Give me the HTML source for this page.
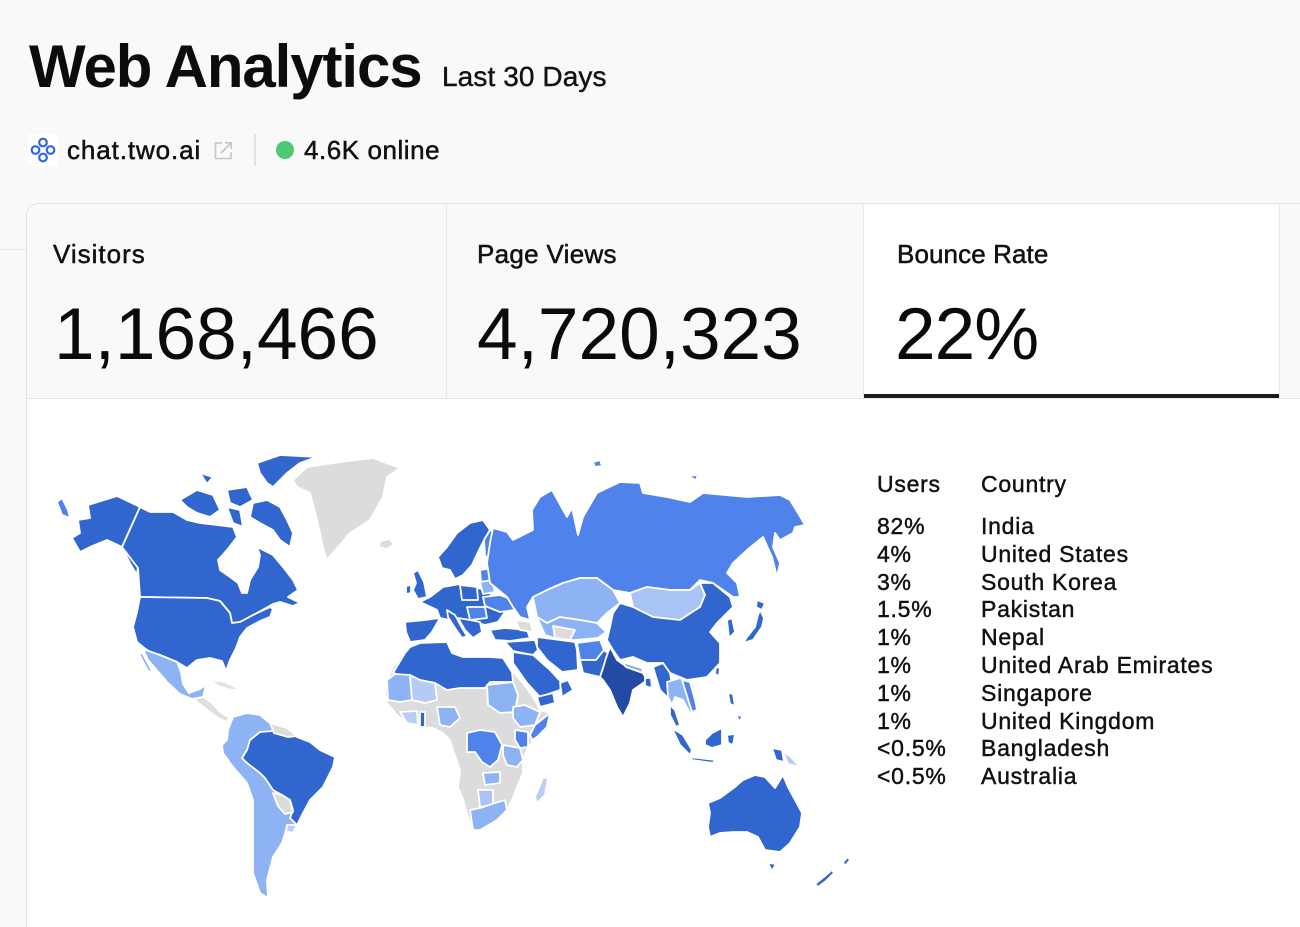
<!DOCTYPE html>
<html>
<head>
<meta charset="utf-8">
<style>
  html,body{margin:0;padding:0;width:1300px;height:927px;overflow:hidden;}
  body{background:#f9f9f9;position:relative;font-family:"Liberation Sans",Arial,sans-serif;color:#111;}
  .abs{position:absolute;white-space:nowrap;}
  .title{left:29px;top:37px;font-size:60px;line-height:60px;font-weight:bold;letter-spacing:-1.1px;color:#0c0c0c;}
  .sub{left:442px;top:63px;font-size:28px;line-height:28px;color:#111;-webkit-text-stroke:0.4px #111;letter-spacing:0.1px;}
  .row2{top:137px;font-size:26px;line-height:26px;color:#111;-webkit-text-stroke:0.5px #111;}
  .card{position:absolute;left:26px;top:203px;width:1320px;height:724px;border:1.5px solid #e3e3e3;border-bottom:none;border-top-left-radius:12px;background:#f9f9f9;box-sizing:border-box;}
  .maparea{position:absolute;left:28px;top:399px;width:1272px;height:528px;background:#fff;}
  .sel{position:absolute;left:864px;top:205px;width:415px;height:193px;background:#fff;}
  .vline{position:absolute;width:1px;background:#e6e6e6;top:205px;height:193px;}
  .hline{position:absolute;left:28px;top:398px;width:1272px;height:1px;background:#e6e6e6;}
  .bar{position:absolute;left:864px;top:394px;width:415px;height:4px;background:#1b1b1b;}
  .lab{top:241px;font-size:26px;line-height:26px;-webkit-text-stroke:0.5px #111;letter-spacing:0.3px;}
  .num{top:298px;font-size:73px;line-height:73px;color:#0a0a0a;}
  .tbl{font-size:23px;letter-spacing:0.75px;-webkit-text-stroke:0.45px #111;}
  .th{top:473px;line-height:23px;}
  .td{top:513px;line-height:27.8px;}
</style>
</head>
<body>
  <div class="abs title">Web Analytics</div>
  <div class="abs sub">Last 30 Days</div>

  <svg class="abs" style="left:28px;top:134px" width="30" height="32" viewBox="0 0 30 32">
    <rect x="0" y="0" width="30" height="32" fill="#ffffff"/>
    <g fill="none" stroke="#2f66e6" stroke-width="2.2">
      <circle cx="15" cy="8.5" r="3.8"/>
      <circle cx="15" cy="23.5" r="3.8"/>
      <circle cx="7.5" cy="16" r="3.8"/>
      <circle cx="22.5" cy="16" r="3.8"/>
    </g>
  </svg>
  <div class="abs row2" style="left:67px;letter-spacing:0.9px">chat.two.ai</div>
  <svg class="abs" style="left:214px;top:141px" width="19" height="19" viewBox="0 0 19 19">
    <path d="M8 2 H1.5 V17.5 H17 V11" fill="none" stroke="#c6c6c6" stroke-width="1.6"/>
    <path d="M7 12 L17 2 M11 1.8 H17.2 V8" fill="none" stroke="#c6c6c6" stroke-width="1.6"/>
  </svg>
  <div class="abs" style="left:254px;top:134px;width:2px;height:32px;background:#e2e2e2"></div>
  <div class="abs" style="left:276px;top:141px;width:18px;height:18px;border-radius:50%;background:#4fc872"></div>
  <div class="abs row2" style="left:304px;letter-spacing:0.55px">4.6K online</div>

  <div class="abs" style="left:0;top:249px;width:27px;height:1px;background:#e6e6e6"></div>

  <div class="card"></div>
  <div class="maparea"></div>
  <div class="sel"></div>
  <div class="vline" style="left:446px"></div>
  <div class="vline" style="left:863px"></div>
  <div class="vline" style="left:1279px"></div>
  <div class="hline"></div>
  <div class="bar"></div>

  <div class="abs lab" style="left:53px;letter-spacing:1px">Visitors</div>
  <div class="abs lab" style="left:477px">Page Views</div>
  <div class="abs lab" style="left:897px;letter-spacing:0.1px">Bounce Rate</div>
  <div class="abs num" style="left:54px">1,168,466</div>
  <div class="abs num" style="left:477px">4,720,323</div>
  <div class="abs num" style="left:895px;letter-spacing:-1px">22%</div>

  <svg class="abs" style="left:0;top:0" width="1300" height="927" viewBox="0 0 1300 927">
    <g stroke="#ffffff" stroke-width="1.8" stroke-linejoin="round">
      <!-- North America -->
      <path fill="#3166cf" d="M88,505 L117,496 L140,507 L122,547 L107,540 L90,547 L80,552 L72,538 L80,533 L78,520 L90,518 Z"/>
      <path fill="#3166cf" d="M122,547 L128,548 L138,566 L137,575 L131,565 Z"/>
      <path fill="#4f83ea" d="M57,502 L62,498 L68,510 L70,518 L62,515 Z"/>
      <path fill="#3166cf" d="M140,507 L150,512 L173,512 L187,520 L200,523 L217,525 L233,527 L237,537 L227,550 L218,560 L220,570 L230,577 L238,583 L242,593 L247,593 L250,580 L258,567 L260,555 L257,547 L267,552 L273,555 L283,567 L293,580 L298,590 L288,597 L300,603 L293,606 L280,602 L273,604 L257,613 L240,622 L232,623 L230,613 L220,601 L207,598 L140,597 L138,568 L122,547 Z"/>
      <path fill="#3166cf" d="M253,503 L267,500 L280,507 L287,520 L293,533 L290,547 L280,540 L273,530 L260,523 L250,517 Z"/>
      <path fill="#3166cf" d="M257,463 L280,455 L317,457 L300,463 L287,473 L273,487 L267,483 L260,473 Z"/>
      <path fill="#3166cf" d="M180,500 L197,490 L213,495 L220,510 L210,517 L197,513 L187,507 Z"/>
      <path fill="#3166cf" d="M227,490 L247,487 L253,500 L240,507 L230,503 Z"/>
      <path fill="#3166cf" d="M200,473 L213,477 L207,484 Z"/>
      <path fill="#3166cf" d="M227,507 L240,510 L243,527 L233,523 Z"/>
      <path fill="#3166cf" d="M140,597 L207,598 L220,601 L230,613 L232,623 L240,622 L257,613 L270,607 L273,609 L270,617 L260,621 L247,628 L240,637 L236,648 L230,660 L226,671 L222,661 L210,658 L197,660 L187,668 L177,662 L160,655 L150,652 L143,647 L137,642 L133,627 L137,612 Z"/>
      <path fill="#8db3f5" d="M143,649 L160,655 L177,662 L181,672 L183,684 L189,693 L200,689 L206,685 L203,697 L192,699 L180,694 L167,682 L155,668 L148,660 Z"/>
      <path fill="#8db3f5" d="M138,652 L143,654 L153,673 L148,671 Z"/>
      <path fill="#dedede" d="M193,699 L204,697 L212,703 L220,712 L230,718 L226,722 L215,716 L205,708 Z"/>
      <path fill="#e2e2e2" d="M210,680 L225,682 L240,689 L232,690 L218,686 Z"/>
      <!-- South America -->
      <path fill="#8db3f5" d="M233,717 L247,713 L260,715 L270,723 L287,728 L297,735 L310,742 L320,750 L335,757 L333,767 L323,787 L310,800 L303,813 L297,825 L287,827 L282,843 L273,857 L267,880 L268,898 L260,893 L253,873 L253,840 L253,800 L247,783 L233,767 L223,753 L222,745 L227,740 L228,730 Z"/>
      <path fill="#3166cf" d="M250,740 L260,732 L273,731 L287,730 L297,737 L310,742 L320,750 L335,757 L333,767 L323,787 L310,800 L303,813 L297,825 L290,818 L293,810 L290,800 L282,795 L273,790 L265,778 L260,773 L247,763 L242,758 L247,750 Z"/>
      <path fill="#dcdcdc" d="M270,723 L287,728 L297,736 L288,737 L274,733 Z"/>
      <path fill="#dcdcdc" d="M273,793 L282,795 L290,800 L293,812 L285,814 L278,806 Z"/>
      <path fill="#b7cef9" d="M287,825 L297,825 L293,833 L286,831 Z"/>
      <!-- Greenland, Iceland -->
      <path fill="#dcdcdc" d="M293,480 L307,467 L340,462 L373,458 L400,468 L387,477 L383,497 L370,520 L350,533 L333,553 L327,560 L323,547 L317,520 L310,493 L297,487 Z"/>
      <path fill="#dcdcdc" d="M380,541 L390,539 L394,545 L386,549 L379,547 Z"/>
      <!-- Europe -->
      <path fill="#3166cf" d="M438,557 L447,547 L457,533 L470,523 L483,520 L490,530 L484,540 L478,552 L472,565 L463,575 L455,579 L450,570 L442,568 Z"/>
      <path fill="#4f83ea" d="M490,530 L505,536 L503,552 L492,560 L485,556 L484,540 Z"/>
      <path fill="#3166cf" d="M413,573 L418,570 L424,582 L427,597 L418,599 L413,590 L416,583 Z"/>
      <path fill="#3166cf" d="M406,586 L411,585 L411,593 L406,594 Z"/>
      <path fill="#3166cf" d="M420,602 L430,597 L443,587 L460,584 L477,588 L487,590 L492,596 L500,605 L505,612 L498,622 L485,625 L475,622 L470,627 L462,632 L455,625 L450,620 L440,618 L437,610 Z"/>
      <path fill="#3166cf" d="M405,622 L425,620 L440,618 L432,632 L425,640 L410,642 L406,632 Z"/>
      <path fill="#3166cf" d="M447,610 L455,615 L462,628 L467,636 L462,638 L455,628 L448,617 Z"/>
      <path fill="#3166cf" d="M460,585 L477,587 L478,600 L462,600 Z"/>
      <path fill="#4f83ea" d="M480,570 L493,568 L494,580 L481,582 Z"/>
      <path fill="#4f83ea" d="M483,597 L500,595 L513,600 L515,610 L500,612 L485,606 Z"/>
      <path fill="#8db3f5" d="M480,582 L492,580 L495,592 L483,594 Z"/>
      <path fill="#4f83ea" d="M467,607 L485,607 L487,618 L470,620 Z"/>
      <path fill="#3166cf" d="M458,618 L470,620 L480,622 L482,632 L473,638 L465,630 Z"/>
      <path fill="#3166cf" d="M490,630 L505,628 L527,630 L530,638 L510,641 L495,640 Z"/>
      <path fill="#dcdcdc" d="M515,620 L530,622 L533,632 L520,630 Z"/>
      <!-- Russia and Asia -->
      <path fill="#5082eb" d="M487,563 L490,543 L493,528 L507,532 L513,540 L533,530 L532,510 L540,497 L552,490 L567,517 L572,508 L578,535 L583,517 L597,493 L620,482 L640,483 L643,493 L667,497 L690,502 L703,493 L747,497 L780,495 L790,500 L798,513 L805,525 L795,527 L793,533 L780,540 L775,533 L773,547 L780,563 L777,577 L772,557 L763,537 L747,550 L733,563 L727,573 L737,583 L740,597 L733,597 L713,583 L700,580 L690,590 L670,590 L647,587 L630,593 L613,590 L597,578 L580,578 L563,583 L547,590 L533,597 L527,607 L530,620 L520,617 L513,607 L507,597 L490,583 Z"/>
      <path fill="#5082eb" d="M593,462 L600,460 L602,466 L595,467 Z"/>
      <path fill="#5082eb" d="M688,476 L698,475 L696,480 Z"/>
      <path fill="#8db3f5" d="M533,597 L547,590 L563,583 L580,578 L597,578 L613,590 L620,603 L607,613 L597,623 L580,620 L560,617 L547,623 L537,617 Z"/>
      <path fill="#a9c3f7" d="M630,593 L647,587 L670,590 L690,590 L700,583 L705,595 L700,607 L680,620 L653,617 L633,607 Z"/>
      <path fill="#3166cf" d="M620,603 L633,607 L653,617 L680,620 L700,607 L705,595 L700,583 L713,583 L730,597 L733,607 L717,623 L710,632 L720,643 L720,663 L707,677 L687,680 L670,673 L663,663 L647,663 L633,657 L620,660 L613,650 L607,640 L610,627 L613,613 Z"/>
      <path fill="#8db3f5" d="M537,617 L547,623 L560,617 L580,620 L597,623 L606,632 L598,638 L575,640 L560,640 L545,635 Z"/>
      <path fill="#dcdcdc" d="M553,626 L575,630 L570,640 L555,638 Z"/>
      <path fill="#3166cf" d="M505,642 L535,640 L538,650 L533,655 L513,651 Z"/>
      <path fill="#3166cf" d="M537,637 L560,640 L575,642 L577,650 L578,670 L562,672 L547,660 L537,647 Z"/>
      <path fill="#4f83ea" d="M577,643 L600,640 L604,650 L596,660 L580,660 Z"/>
      <path fill="#3166cf" d="M580,660 L596,660 L604,650 L610,655 L603,668 L600,677 L583,673 Z"/>
      <path fill="#234ba3" d="M610,647 L617,660 L627,667 L643,673 L647,680 L643,683 L633,690 L630,703 L623,717 L617,707 L610,690 L603,680 L600,677 L603,668 L606,658 Z"/>
      <path fill="#8db3f5" d="M622,662 L642,668 L643,673 L626,667 Z"/>
      <path fill="#3166cf" d="M645,678 L651,678 L652,688 L645,686 Z"/>
      <path fill="#3166cf" d="M653,667 L663,663 L670,673 L673,690 L667,697 L660,690 L657,680 Z"/>
      <path fill="#8db3f5" d="M667,682 L680,678 L687,682 L692,695 L697,710 L690,713 L683,700 L675,697 L672,705 L668,697 Z"/>
      <path fill="#4f83ea" d="M682,680 L690,682 L695,700 L697,710 L692,712 L687,696 Z"/>
      <path fill="#3166cf" d="M670,705 L675,710 L680,725 L676,727 L670,715 Z"/>
      <path fill="#3166cf" d="M513,652 L533,655 L550,670 L562,683 L560,690 L540,697 L527,683 L513,663 Z"/>
      <path fill="#3166cf" d="M537,697 L553,693 L555,703 L540,707 Z"/>
      <path fill="#3166cf" d="M560,683 L568,680 L573,690 L562,697 Z"/>
      <path fill="#3166cf" d="M727,620 L732,618 L735,632 L729,638 Z"/>
      <path fill="#3166cf" d="M760,610 L764,618 L762,627 L753,640 L743,643 L747,637 L755,627 L758,615 Z"/>
      <path fill="#3166cf" d="M757,600 L765,603 L762,610 L756,607 Z"/>
      <path fill="#3166cf" d="M716,667 L720,668 L719,676 L715,674 Z"/>
      <path fill="#3166cf" d="M728,693 L733,694 L735,706 L730,704 Z"/>
      <path fill="#3166cf" d="M736,715 L742,716 L740,722 Z"/>
      <path fill="#3166cf" d="M672,728 L683,735 L692,750 L690,755 L680,745 Z"/>
      <path fill="#3166cf" d="M690,757 L715,760 L713,763 L692,760 Z"/>
      <path fill="#3166cf" d="M705,740 L712,733 L722,728 L722,745 L712,748 L705,745 Z"/>
      <path fill="#3166cf" d="M727,735 L735,734 L733,745 L728,743 Z"/>
      <path fill="#3166cf" d="M772,748 L782,750 L784,762 L776,760 Z"/>
      <path fill="#b7cef9" d="M783,752 L790,756 L800,767 L788,764 Z"/>
      <!-- Australia / NZ -->
      <path fill="#3166cf" d="M708,803 L720,798 L735,787 L743,780 L755,775 L765,777 L775,788 L783,775 L788,787 L795,800 L802,813 L800,827 L790,843 L780,852 L765,850 L758,837 L747,832 L733,832 L720,833 L710,837 L708,827 L710,813 Z"/>
      <path fill="#3166cf" d="M768,863 L776,864 L772,871 Z"/>
      <path fill="#3166cf" d="M815,884 L825,876 L832,870 L834,873 L826,881 L818,887 Z"/>
      <path fill="#3166cf" d="M843,862 L848,857 L850,860 L845,866 Z"/>
      <!-- Africa -->
      <path fill="#dcdcdc" d="M387,680 L393,667 L405,653 L410,647 L420,643 L433,643 L447,642 L452,653 L463,657 L480,655 L490,657 L503,658 L513,672 L523,683 L533,697 L540,710 L550,713 L547,727 L537,737 L528,747 L523,760 L523,773 L517,787 L512,800 L507,810 L497,820 L480,830 L473,830 L468,817 L463,800 L458,787 L460,770 L453,750 L450,740 L443,733 L433,728 L420,727 L407,723 L397,715 L387,703 L385,693 Z"/>
      <path fill="#3166cf" d="M393,673 L405,653 L410,647 L420,643 L447,642 L452,653 L463,657 L490,657 L503,658 L512,672 L513,682 L490,682 L485,688 L460,688 L447,690 L435,683 L420,680 L410,675 L400,675 Z"/>
      <path fill="#8db3f5" d="M387,680 L395,674 L410,675 L412,700 L400,702 L388,700 Z"/>
      <path fill="#b4cbf6" d="M410,675 L420,680 L435,683 L437,700 L425,703 L412,700 Z"/>
      <path fill="#8db3f5" d="M487,685 L513,682 L518,695 L515,712 L500,713 L488,705 Z"/>
      <path fill="#8db3f5" d="M513,707 L525,705 L540,712 L535,725 L520,727 L513,718 Z"/>
      <path fill="#4f83ea" d="M535,725 L550,713 L547,727 L537,737 L532,740 L530,735 Z"/>
      <path fill="#8db3f5" d="M437,707 L455,707 L460,718 L450,727 L440,725 Z"/>
      <path fill="#3166cf" d="M420,712 L425,712 L425,727 L420,727 Z"/>
      <path fill="#b7cef9" d="M400,712 L417,711 L418,725 L407,723 Z"/>
      <path fill="#4f83ea" d="M467,733 L480,730 L495,732 L502,745 L498,760 L490,767 L482,762 L475,752 L467,752 Z"/>
      <path fill="#4f83ea" d="M515,730 L528,732 L528,747 L520,748 L515,740 Z"/>
      <path fill="#8db3f5" d="M503,745 L520,748 L523,760 L517,767 L507,765 L503,755 Z"/>
      <path fill="#8db3f5" d="M483,773 L500,772 L500,783 L485,785 Z"/>
      <path fill="#a9c3f7" d="M478,790 L493,790 L493,805 L480,807 Z"/>
      <path fill="#8db3f5" d="M470,810 L480,808 L495,803 L505,800 L507,810 L497,820 L480,830 L473,830 Z"/>
      <path fill="#b7cef9" d="M543,778 L548,778 L545,795 L537,803 L535,797 Z"/>
    </g>
  </svg>

  <div class="abs tbl th" style="left:877px">Users</div>
  <div class="abs tbl th" style="left:981px">Country</div>
  <div class="abs tbl td" style="left:877px">82%<br>4%<br>3%<br>1.5%<br>1%<br>1%<br>1%<br>1%<br>&lt;0.5%<br>&lt;0.5%</div>
  <div class="abs tbl td" style="left:981px">India<br>United States<br>South Korea<br>Pakistan<br>Nepal<br>United Arab Emirates<br>Singapore<br>United Kingdom<br>Bangladesh<br>Australia</div>
</body>
</html>
